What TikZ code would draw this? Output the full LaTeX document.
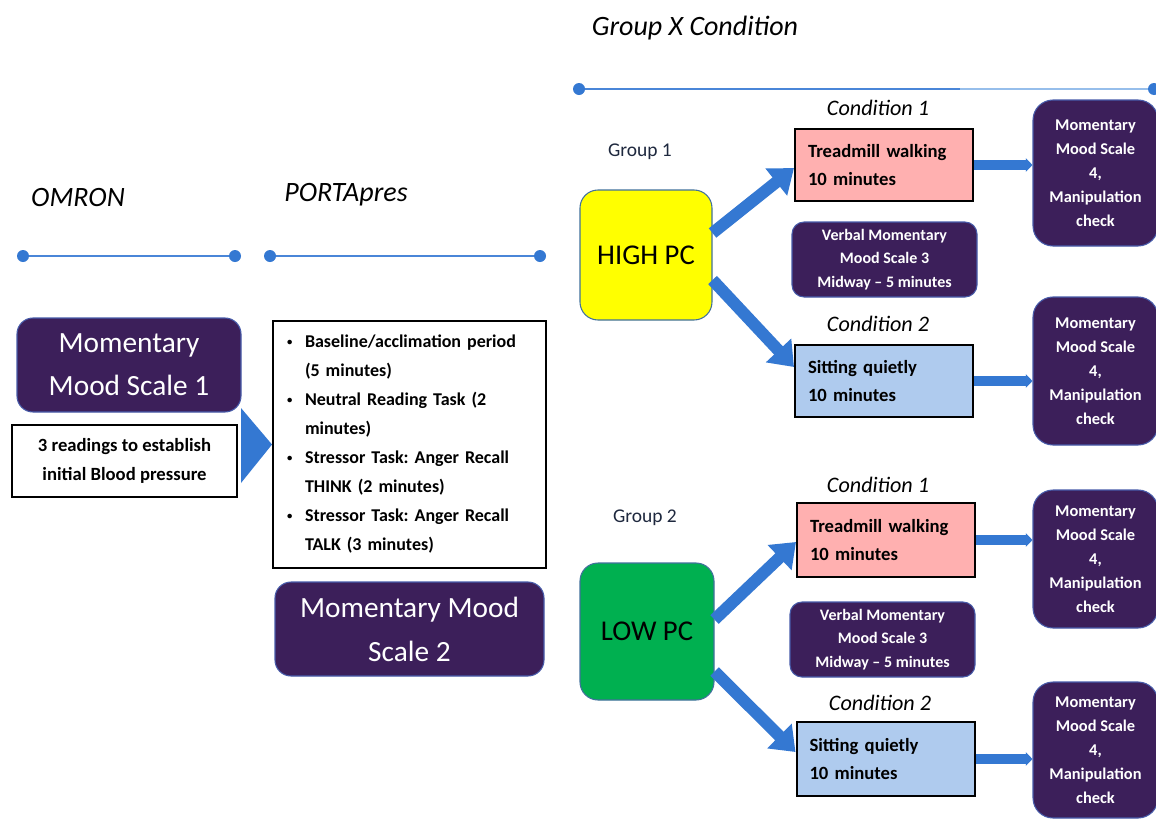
\documentclass[tikz,border=0pt]{standalone}
\usepackage{fontspec}
\setmainfont{Carlito}
\usetikzlibrary{arrows.meta,calc}
\frenchspacing
\definecolor{mpurple}{RGB}{60,31,90}
\definecolor{pborder}{RGB}{72,92,170}
\definecolor{arrowblue}{RGB}{52,120,210}
\definecolor{lineblue}{RGB}{74,134,216}
\definecolor{lightline}{RGB}{150,190,235}
\definecolor{dotblue}{RGB}{52,120,210}
\definecolor{hiyellow}{RGB}{255,255,0}
\definecolor{logreen}{RGB}{0,176,80}
\definecolor{shapeborder}{RGB}{65,113,156}
\definecolor{pinkfill}{RGB}{255,176,176}
\definecolor{bluefill}{RGB}{175,203,238}
\definecolor{grouptext}{RGB}{30,40,62}
\newcommand\tbul{\makebox[13.5pt][l]{\raisebox{1.8pt}{\fontsize{8}{8}\selectfont •}}}
\newcommand\tind{\hspace*{13.5pt}}
\begin{document}
\begin{tikzpicture}[x=0.75pt,y=-0.75pt,
  head/.style={font=\itshape\fontsize{21}{25}\selectfont, inner sep=0pt},
  condlabel/.style={font=\itshape\fontsize{16.6}{20}\selectfont, inner sep=0pt},
  grouplabel/.style={font=\fontsize{14.6}{18}\selectfont, text=grouptext, inner sep=0pt},
  tline/.style={draw=lineblue, line width=2.2pt},
  tdot/.style={fill=dotblue},
  bigmood/.style={draw=pborder, line width=0.8pt, fill=mpurple, rounded corners=12pt, text=white, align=center, inner sep=0pt, font=\fontsize{22}{32}\selectfont},
  smallmood/.style={draw=pborder, line width=0.8pt, fill=mpurple, rounded corners=15pt, text=white, align=center, inner sep=0pt, font=\bfseries\fontsize{12.3}{18}\selectfont, minimum width=93.75pt},
  verbalbox/.style={draw=pborder, line width=0.8pt, fill=mpurple, rounded corners=9pt, text=white, align=center, inner sep=0pt, font=\bfseries\fontsize{12}{17.6}\selectfont, minimum width=138.75pt, minimum height=56.25pt},
  blackbox/.style={draw=black, line width=1.5pt, fill=white, inner sep=0pt},
  condbox/.style={draw=black, line width=1.5pt, minimum width=133.5pt, minimum height=54pt, text width=114pt, inner xsep=9.75pt, inner ysep=0pt, align=left, font=\bfseries\fontsize{14}{21}\selectfont},
  pcbox/.style={draw=shapeborder, line width=0.8pt, rounded corners=13.5pt, inner sep=0pt, font=\fontsize{21.5}{25}\selectfont},
  bigarrow/.style={draw=arrowblue, line width=9pt, -{Triangle[length=17pt,width=25pt]}},
  smallarrow/.style={draw=arrowblue, line width=7pt, -{Triangle[length=5pt,width=10pt]}}
]
\useasboundingbox (0,0) rectangle (1156,818);
\clip (0,0) rectangle (1156,818);
\fill[white] (0,0) rectangle (1156,818);

% headings and timelines
\node[head] (gxc) at (695,28) {Group X Condition};
\coordinate (ta) at (579,89);
\coordinate (tm) at (960,89);
\coordinate (tb) at (1154,89);
\draw[tline] (ta) -- (tm);
\draw[draw=lightline, line width=2.2pt] (tm) -- (tb);
\fill[tdot] (ta) circle (4.5pt);
\fill[tdot] (tb) circle (4.5pt);

\node[head] (omron) at (78,198) {OMRON};
\coordinate (oa) at (23,256);
\coordinate (ob) at (235,256);
\draw[tline] (oa) -- (ob);
\fill[tdot] (oa) circle (4.5pt);
\fill[tdot] (ob) circle (4.5pt);

\node[head] (porta) at (346,195) {PORTApres};
\coordinate (pa) at (270,256);
\coordinate (pb) at (540,256);
\draw[tline] (pa) -- (pb);
\fill[tdot] (pa) circle (4.5pt);
\fill[tdot] (pb) circle (4.5pt);

% left column
\node[bigmood, minimum width=168pt, minimum height=70.5pt] (mms1) at (129,365) {Momentary\\Mood Scale 1};
\node[blackbox, minimum width=168.75pt, minimum height=54pt, align=center, font=\bfseries\fontsize{14}{21.75}\selectfont] (rd) at (124.5,461) {3 readings to establish\\initial Blood pressure};

% middle column
\node[blackbox, minimum width=204.75pt, minimum height=185.25pt, text width=183.75pt, inner xsep=10.5pt, align=left, font=\bfseries\fontsize{13.5}{21.75}\selectfont] (tasks) at (409.5,444.5)
 {\tbul Baseline/acclimation period\\ \tind (5 minutes)\\ \tbul Neutral Reading Task (2\\ \tind minutes)\\ \tbul Stressor Task: Anger Recall\\ \tind THINK (2 minutes)\\ \tbul Stressor Task: Anger Recall\\ \tind TALK (3 minutes)};
\node[bigmood, minimum width=201.75pt, minimum height=70.5pt, font=\fontsize{22}{33}\selectfont] (mms2) at (409.5,629) {Momentary Mood\\Scale 2};

\fill[arrowblue] ($(rd.east)+(3,-53)$) -- (tasks.west) -- ($(rd.east)+(3,22)$) -- cycle;

% groups
\node[grouplabel] (g1) at (640,152) {Group 1};
\node[pcbox, fill=hiyellow, minimum width=99pt, minimum height=97.5pt] (hpc) at (646,255) {HIGH PC};
\node[grouplabel] (g2) at (645,518) {Group 2};
\node[pcbox, fill=logreen, minimum width=100.5pt, minimum height=102.75pt] (lpc) at (647,631.5) {LOW PC};

% upper conditions
\node[condlabel] (c1a) at (878,108) {Condition 1};
\node[condbox, fill=pinkfill] (tm1) at (884,165) {Treadmill walking\\10 minutes};
\node[verbalbox] (vb1) at (884.5,259.5) {Verbal Momentary\\Mood Scale 3\\Midway -- 5 minutes};
\node[condlabel] (c2a) at (878,324) {Condition 2};
\node[condbox, fill=bluefill] (sit1) at (884,381) {Sitting quietly\\10 minutes};
\node[smallmood, minimum height=109.5pt] (mA) at (1095.5,173) {Momentary\\Mood Scale\\4,\\Manipulation\\check};
\node[smallmood, minimum height=111pt] (mB) at (1095.5,371) {Momentary\\Mood Scale\\4,\\Manipulation\\check};

% lower conditions
\node[condlabel] (c1b) at (878,485) {Condition 1};
\node[condbox, fill=pinkfill, minimum height=55.5pt] (tm2) at (886,540) {Treadmill walking\\10 minutes};
\node[verbalbox] (vb2) at (882.5,639.5) {Verbal Momentary\\Mood Scale 3\\Midway -- 5 minutes};
\node[condlabel] (c2b) at (880,703) {Condition 2};
\node[condbox, fill=bluefill, minimum height=55.5pt] (sit2) at (885.5,759) {Sitting quietly\\10 minutes};
\node[smallmood, minimum height=103.5pt] (mC) at (1095.5,559) {Momentary\\Mood Scale\\4,\\Manipulation\\check};
\node[smallmood, minimum height=102pt] (mD) at (1095.5,750) {Momentary\\Mood Scale\\4,\\Manipulation\\check};

% arrows
\draw[bigarrow] ($(hpc.east)+(0,-22)$) -- ($(tm1.west)+(0,3)$);
\draw[bigarrow] ($(hpc.east)+(0,25)$) -- ($(sit1.west)+(0,-14)$);
\draw[bigarrow] ($(lpc.east)+(0,-12)$) -- ($(tm2.west)+(0,2)$);
\draw[bigarrow] ($(lpc.east)+(0,40)$) -- ($(sit2.west)+(0,-7)$);

\draw[smallarrow] (tm1.east) -- (tm1.east -| mA.west);
\draw[smallarrow] (sit1.east) -- (sit1.east -| mB.west);
\draw[smallarrow] (tm2.east) -- (tm2.east -| mC.west);
\draw[smallarrow] (sit2.east) -- (sit2.east -| mD.west);
\end{tikzpicture}
\end{document}
